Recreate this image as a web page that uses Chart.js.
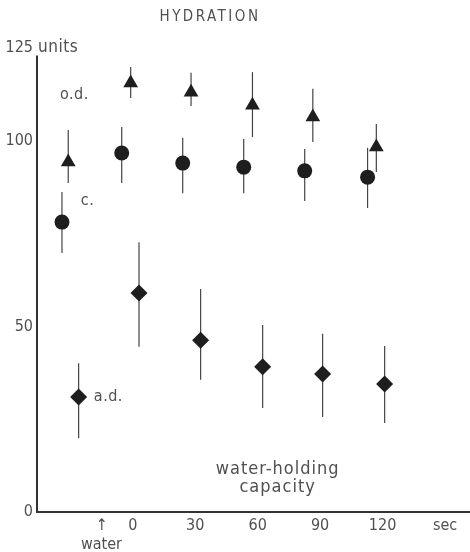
<!DOCTYPE html>
<html>
<head>
<meta charset="utf-8">
<script src="https://cdn.jsdelivr.net/npm/chart.js@4.4.1/dist/chart.umd.min.js"></script>
<style>
  html, body { margin: 0; padding: 0; background: #fff; overflow: hidden; }
  canvas { display: block; }
</style>
</head>
<body>
<canvas id="grafico" width="470" height="552"></canvas>
<script>
// tempos (s) e valores
const odsTempo = [-31, -1, 28, 57.5, 86.5, 117];
const odsMedia = [94.3, 115.6, 113.1, 109.6, 106.4, 98.3];
const odsMin = [88.6, 111.5, 109.4, 101.0, 99.7, 91.6];
const odsMax = [102.9, 119.9, 118.3, 118.5, 114.0, 104.5];

const cTempo = [-34, -5.3, 24, 53.3, 82.6, 112.8];
const cMedia = [78.1, 96.7, 94.0, 92.9, 91.9, 90.2];
const cMin = [69.8, 88.6, 85.9, 85.9, 83.8, 81.9];
const cMax = [86.2, 103.7, 100.8, 100.5, 97.8, 98.1];

const adTempo = [-26, 3, 32.6, 62.4, 91.2, 121];
const adMedia = [31.0, 59.0, 46.3, 39.1, 37.2, 34.5];
const adMin = [19.9, 44.5, 35.6, 28.0, 25.6, 24.0];
const adMax = [40.1, 72.7, 60.1, 50.4, 48.0, 44.7];

// eixos
const ticksX = [-15, 0, 30, 60, 90, 120, 150];
const rotulosX = [['↑', 'water'], '0', '30', '60', '90', '120', 'sec'];
const ticksY = [0, 50, 100, 125];

const corTexto = '#505050';
const corMarca = '#1e1e1e';
const fonte = '"DejaVu Sans Condensed", "Liberation Sans Narrow", sans-serif';

Chart.defaults.font.family = fonte;

function pontos(tempo, media) {
    return tempo.map((t, i) => ({ x: t, y: media[i] }));
}

// barras de erro verticais
const barrasErro = {
    id: 'barrasErro',
    beforeDatasetsDraw(chart) {
        const { ctx, scales: { x, y } } = chart;
        ctx.save();
        ctx.strokeStyle = '#444';
        ctx.lineWidth = 1.2;
        chart.data.datasets.forEach(ds => {
            ds.data.forEach((p, i) => {
                const px = x.getPixelForValue(p.x);
                ctx.beginPath();
                ctx.moveTo(px, y.getPixelForValue(ds.baixo[i]));
                ctx.lineTo(px, y.getPixelForValue(ds.alto[i]));
                ctx.stroke();
            });
        });
        ctx.restore();
    }
};

// linhas dos eixos e textos soltos
const extras = {
    id: 'extras',
    beforeDraw(chart) {
        const { ctx, chartArea, scales: { y } } = chart;
        ctx.save();
        ctx.strokeStyle = '#333';
        ctx.lineWidth = 2;
        ctx.beginPath();
        ctx.moveTo(chartArea.left, y.getPixelForValue(123));
        ctx.lineTo(chartArea.left, y.getPixelForValue(0));
        ctx.lineTo(chartArea.right, y.getPixelForValue(0));
        ctx.stroke();
        ctx.restore();
    },
    afterDraw(chart) {
        const { ctx, chartArea, scales: { x, y } } = chart;
        ctx.save();
        ctx.fillStyle = corTexto;
        ctx.textBaseline = 'middle';

        ctx.font = '15px ' + fonte;
        ctx.letterSpacing = '2.5px';
        ctx.textAlign = 'center';
        ctx.fillText('HYDRATION', 210, 17);
        ctx.letterSpacing = '0.5px';

        ctx.font = '17px ' + fonte;
        ctx.textAlign = 'left';
        ctx.fillText('units', chartArea.left + 1, y.getPixelForValue(125));

        ctx.font = '16px ' + fonte;
        ctx.fillText('o.d.', x.getPixelForValue(-35), y.getPixelForValue(112.3));
        ctx.fillText('c.', x.getPixelForValue(-25), y.getPixelForValue(83.8));
        ctx.fillText('a.d.', x.getPixelForValue(-18.7), y.getPixelForValue(31));

        ctx.font = '18px ' + fonte;
        ctx.letterSpacing = '1px';
        ctx.textAlign = 'center';
        ctx.fillText('water-holding', x.getPixelForValue(69.6), y.getPixelForValue(11.6));
        ctx.fillText('capacity', x.getPixelForValue(69.6), y.getPixelForValue(6.7));
        ctx.restore();
    }
};

new Chart(document.getElementById('grafico').getContext('2d'), {
    type: 'scatter',
    data: {
        datasets: [{
            label: 'o.d.',
            data: pontos(odsTempo, odsMedia),
            baixo: odsMin,
            alto: odsMax,
            pointStyle: 'triangle',
            pointRadius: 8.5,
            backgroundColor: corMarca,
            borderWidth: 0
        }, {
            label: 'c.',
            data: pontos(cTempo, cMedia),
            baixo: cMin,
            alto: cMax,
            pointStyle: 'circle',
            pointRadius: 7.5,
            backgroundColor: corMarca,
            borderWidth: 0
        }, {
            label: 'a.d.',
            data: pontos(adTempo, adMedia),
            baixo: adMin,
            alto: adMax,
            pointStyle: 'rectRot',
            pointRadius: 8.5,
            backgroundColor: corMarca,
            borderWidth: 0
        }]
    },
    options: {
        responsive: false,
        animation: false,
        events: [],
        layout: { autoPadding: false, padding: { top: 48, left: 0, right: 0, bottom: 0 } },
        scales: {
            x: {
                type: 'linear',
                min: -46,
                max: 162,
                afterBuildTicks: s => { s.ticks = ticksX.map(v => ({ value: v })); },
                afterFit: s => { s.height = 40; s.paddingLeft = 0; s.paddingRight = 0; },
                grid: { display: false, drawTicks: false },
                border: { display: false },
                ticks: {
                    autoSkip: false,
                    maxRotation: 0,
                    padding: 4,
                    color: corTexto,
                    font: { size: 16 },
                    callback: (v, i) => rotulosX[i]
                }
            },
            y: {
                min: 0,
                max: 125,
                afterBuildTicks: s => { s.ticks = ticksY.map(v => ({ value: v })); },
                afterFit: s => { s.width = 37; },
                grid: { display: false, drawTicks: false },
                border: { display: false },
                ticks: {
                    autoSkip: false,
                    padding: 4,
                    color: corTexto,
                    font: { size: 16 },
                    callback: v => v
                }
            }
        },
        plugins: {
            legend: { display: false },
            tooltip: { enabled: false }
        }
    },
    plugins: [barrasErro, extras]
});
</script>
</body>
</html>
